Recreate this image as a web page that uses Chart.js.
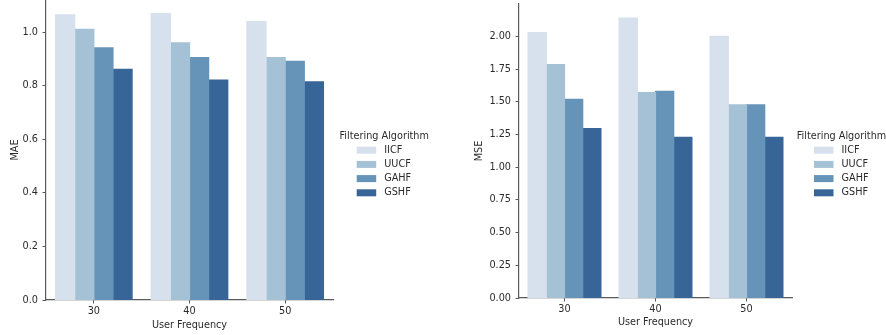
<!DOCTYPE html>
<html>
<head>
<meta charset="utf-8">
<title>MAE / MSE by user frequency</title>
<script src="https://cdn.jsdelivr.net/npm/chart.js@4/dist/chart.umd.min.js"></script>
<style>
  html, body { margin: 0; padding: 0; background: #fff; }
  #wrap { position: relative; width: 886px; height: 335px; overflow: hidden; }
  canvas { position: absolute; top: 0; }
  #maeChart { left: 0; }
  #mseChart { left: 450px; }
</style>
</head>
<body>
<div id="wrap">
  <canvas id="maeChart" width="450" height="335"></canvas>
  <canvas id="mseChart" width="436" height="335"></canvas>
</div>
<script>
// data
const categories = ['30', '40', '50'];
const algorithms = ['IICF', 'UUCF', 'GAHF', 'GSHF'];

const maeIICF = [1.065, 1.069, 1.039];
const maeUUCF = [1.010, 0.960, 0.905];
const maeGAHF = [0.941, 0.905, 0.891];
const maeGSHF = [0.861, 0.821, 0.814];

const mseIICF = [2.029, 2.141, 2.000];
const mseUUCF = [1.784, 1.570, 1.476];
const mseGAHF = [1.519, 1.580, 1.476];
const mseGSHF = [1.295, 1.229, 1.229];

const maeTicks = [0, 0.2, 0.4, 0.6, 0.8, 1.0];
const mseTicks = [0, 0.25, 0.5, 0.75, 1.0, 1.25, 1.5, 1.75, 2.0];

const colors = ['#d6e1ed', '#a5c1d5', '#6693b8', '#386598'];
const FONT = 'DejaVu Sans';
const TEXT = '#2b2b2b';
const AXIS = '#5a5a5a';

// legend drawn by hand so it sits where seaborn put it
const legendPlugin = {
    id: 'sideLegend',
    afterDraw(chart, args, opts) {
        const ctx = chart.ctx;
        ctx.save();
        ctx.font = '9.7px "' + FONT + '"';
        ctx.fillStyle = TEXT;
        ctx.textBaseline = 'middle';
        ctx.textAlign = 'center';
        ctx.fillText(opts.title, opts.x + 27.5, opts.y);
        ctx.textAlign = 'left';
        chart.data.datasets.forEach((ds, i) => {
            const cy = opts.y + 14.2 * (i + 1);
            ctx.fillStyle = ds.backgroundColor;
            ctx.fillRect(opts.x, cy - 3.5, 19.5, 7);
            ctx.fillStyle = TEXT;
            ctx.fillText(ds.label, opts.x + 27.5, cy);
        });
        ctx.restore();
    }
};

function buildChart(canvasId, series, cfg) {
    const datasets = algorithms.map((name, i) => ({
        label: name,
        data: series[i],
        backgroundColor: colors[i],
        borderWidth: 0,
        inflateAmount: 0.6,
        categoryPercentage: 0.8,
        barPercentage: 1.0
    }));
    return new Chart(document.getElementById(canvasId), {
        type: 'bar',
        data: { labels: categories, datasets: datasets },
        plugins: [legendPlugin],
        options: {
            responsive: false,
            animation: false,
            layout: { padding: cfg.padding },
            plugins: {
                legend: { display: false },
                tooltip: { enabled: false },
                sideLegend: { title: 'Filtering Algorithm', x: cfg.legendX, y: 136 }
            },
            scales: {
                x: {
                    offset: true,
                    grid: { display: true, drawOnChartArea: false, drawTicks: true, tickLength: 3.5, color: AXIS, offset: false },
                    border: { display: true, color: AXIS, width: 1.2 },
                    ticks: { color: TEXT, font: { family: FONT, size: 9.7 }, padding: 2.5, maxRotation: 0 },
                    title: { display: true, text: 'User Frequency', color: TEXT, font: { family: FONT, size: 9.7 }, padding: { top: 0, bottom: cfg.xTitlePad } },
                    afterFit(scale) {
                        scale.height = cfg.xHeight;
                        scale.paddingLeft = 0;
                        scale.paddingRight = 0;
                    }
                },
                y: {
                    min: 0,
                    max: cfg.yMax,
                    grid: { display: true, drawOnChartArea: false, drawTicks: true, tickLength: 3.5, color: AXIS },
                    border: { display: true, color: AXIS, width: 1.2 },
                    ticks: {
                        color: TEXT,
                        font: { family: FONT, size: 9.7 },
                        padding: 4.5,
                        callback: (v) => Number(v).toFixed(cfg.decimals)
                    },
                    title: { display: true, text: cfg.yTitle, color: TEXT, font: { family: FONT, size: 9.7 }, padding: { top: cfg.yTitlePad, bottom: 0 } },
                    afterBuildTicks(scale) {
                        scale.ticks = cfg.ticks.map(v => ({ value: v }));
                    },
                    afterFit(scale) {
                        scale.width = cfg.yWidth;
                        scale.paddingTop = 0;
                        scale.paddingBottom = 0;
                    }
                }
            }
        }
    });
}

buildChart('maeChart', [maeIICF, maeUUCF, maeGAHF, maeGSHF], {
    yTitle: 'MAE', yMax: 1.12, ticks: maeTicks, decimals: 1,
    yWidth: 46, xHeight: 35, yTitlePad: 9.2, xTitlePad: 4.2,
    padding: { left: 0, right: 117, top: 0, bottom: 0 },
    legendX: 356.7
});

buildChart('mseChart', [mseIICF, mseUUCF, mseGAHF, mseGSHF], {
    yTitle: 'MSE', yMax: 2.248, ticks: mseTicks, decimals: 2,
    yWidth: 69, xHeight: 37, yTitlePad: 23.5, xTitlePad: 6.5,
    padding: { left: 0, right: 94, top: 4, bottom: 0 },
    legendX: 364
});
</script>
</body>
</html>
